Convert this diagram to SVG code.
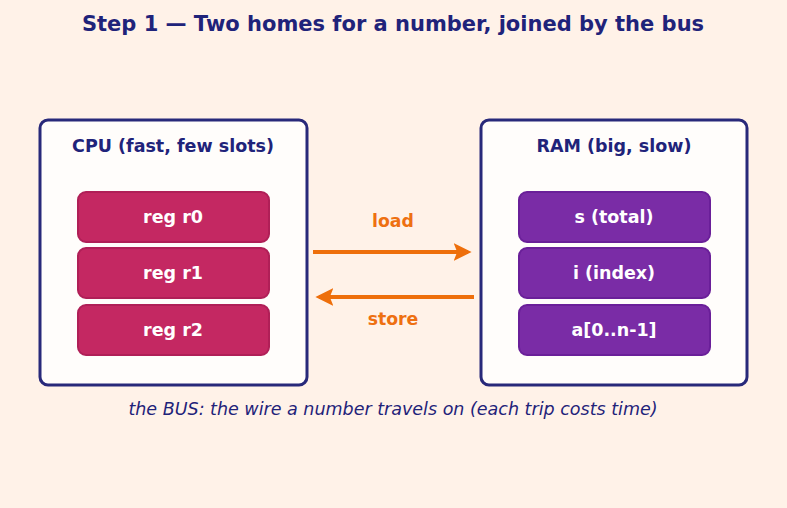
<svg xmlns="http://www.w3.org/2000/svg" width="787" height="508" viewBox="0 0 787 508">
<style>
text{font-family:"DejaVu Sans",sans-serif;text-anchor:middle;}
.title{font-size:21px;font-weight:bold;fill:#1f237a;}
.box{fill:#fffdfb;stroke:#28297a;stroke-width:3;}
.head{font-size:17.5px;font-weight:bold;fill:#1f237a;}
.reg{fill:#c42862;stroke:#b01f57;stroke-width:2;}
.ram{fill:#7a2ca6;stroke:#6a1f99;stroke-width:2;}
.lbl{font-size:17.5px;font-weight:bold;fill:#ffffff;}
.arr{stroke:#ee6f0b;stroke-width:4;fill:none;}
.alb{font-size:17.3px;font-weight:bold;fill:#ee7011;}
.cap{font-size:17.5px;font-style:italic;fill:#1f237a;}
</style>
<defs>
<marker id="ah" viewBox="0 0 10 10" refX="8" refY="5" markerWidth="4.5" markerHeight="4.5" orient="auto" markerUnits="strokeWidth">
<path d="M0,0 L10,5 L0,10 L2,5 z" fill="#ee6f0b"/>
</marker>
</defs>
<rect width="787" height="508" fill="#fff2e8"/>
<text class="title" x="393" y="31">Step 1 — Two homes for a number, joined by the bus</text>
<g id="cpu">
<rect class="box" x="40" y="120" width="267" height="265" rx="8"/>
<text class="head" x="173" y="152">CPU (fast, few slots)</text>
</g>
<g id="r0"><rect class="reg" x="78" y="192" width="191" height="50" rx="8"/><text class="lbl" x="173" y="223">reg r0</text></g>
<g id="r1"><rect class="reg" x="78" y="248" width="191" height="50" rx="8"/><text class="lbl" x="173" y="279">reg r1</text></g>
<g id="r2"><rect class="reg" x="78" y="305" width="191" height="50" rx="8"/><text class="lbl" x="173" y="336">reg r2</text></g>
<g id="ram">
<rect class="box" x="481" y="120" width="266" height="265" rx="8"/>
<text class="head" x="614" y="152">RAM (big, slow)</text>
</g>
<g id="s"><rect class="ram" x="519" y="192" width="191" height="50" rx="8"/><text class="lbl" x="614" y="223">s (total)</text></g>
<g id="i"><rect class="ram" x="519" y="248" width="191" height="50" rx="8"/><text class="lbl" x="614" y="279">i (index)</text></g>
<g id="a"><rect class="ram" x="519" y="305" width="191" height="50" rx="8"/><text class="lbl" x="614" y="336">a[0..n-1]</text></g>
<g id="connectors">
<line class="arr" x1="313" y1="252" x2="468" y2="252" marker-end="url(#ah)"/>
<line class="arr" x1="474" y1="297" x2="319" y2="297" marker-end="url(#ah)"/>
<text class="alb" x="393" y="227">load</text>
<text class="alb" x="393" y="325">store</text>
</g>
<text class="cap" x="393" y="415">the BUS: the wire a number travels on (each trip costs time)</text>
</svg>
